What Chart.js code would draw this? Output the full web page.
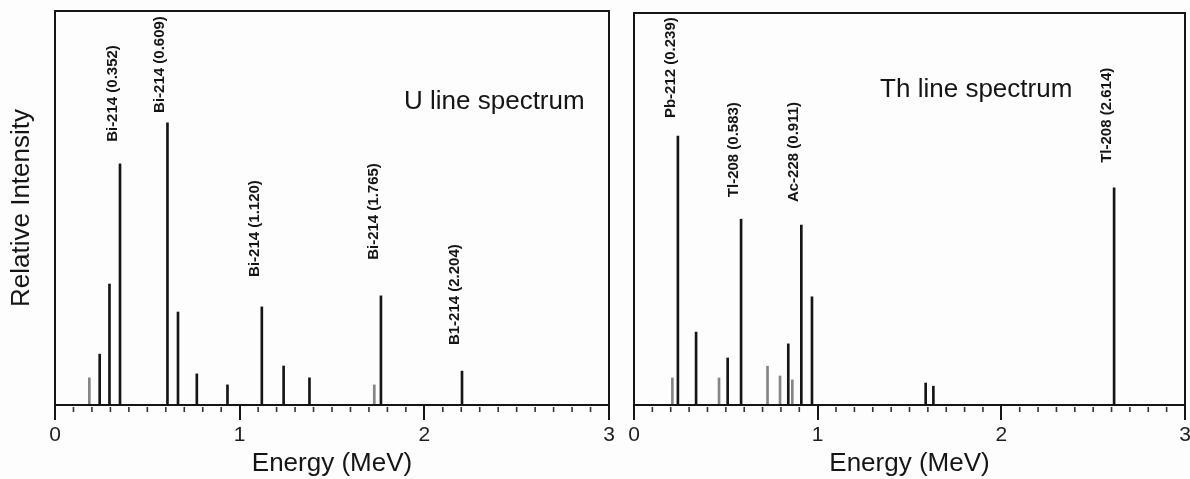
<!DOCTYPE html>
<html>
<head>
<meta charset="utf-8">
<title>U and Th line spectra</title>
<script src="https://cdn.jsdelivr.net/npm/chart.js@4.4.0/dist/chart.umd.min.js"></script>
<style>
  html, body { margin: 0; padding: 0; background: #fdfdfd; overflow: hidden; }
  #wrap { position: relative; width: 1190px; height: 479px; }
  canvas { position: absolute; top: 0; }
  #uChart { left: 0; }
  #thChart { left: 620px; }
</style>
</head>
<body>
<div id="wrap">
  <canvas id="uChart" width="620" height="479"></canvas>
  <canvas id="thChart" width="580" height="479"></canvas>
</div>
<script>
// U chain gamma lines: energy (MeV) and relative intensity (% of panel height)
const uEnergy    = [0.186, 0.242, 0.295, 0.352, 0.609, 0.666, 0.768, 0.934, 1.120, 1.238, 1.378, 1.729, 1.765, 2.204];
const uIntensity = [6.9, 12.9, 30.7, 61.2, 71.6, 23.6, 7.9, 5.1, 24.9, 9.9, 6.9, 5.1, 27.7, 8.6];
const uTags      = ['', '', '', 'Bi-214 (0.352)', 'Bi-214 (0.609)', '', '', '', 'Bi-214 (1.120)', '', '', '', 'Bi-214 (1.765)', 'B1-214 (2.204)'];
const uFaint     = [0.186, 1.729];

// Th chain gamma lines
const thEnergy    = [0.209, 0.239, 0.338, 0.463, 0.510, 0.583, 0.727, 0.795, 0.840, 0.862, 0.911, 0.969, 1.588, 1.630, 2.614];
const thIntensity = [6.9, 68.6, 18.6, 6.9, 12.0, 47.4, 9.9, 7.4, 15.6, 6.4, 45.9, 27.6, 5.6, 4.8, 55.4];
const thTags      = ['', 'Pb-212 (0.239)', '', '', '', 'Tl-208 (0.583)', '', '', '', '', 'Ac-228 (0.911)', '', '', '', 'Tl-208 (2.614)'];
const thFaint     = [0.209, 0.463, 0.727, 0.795, 0.862];

// labelled energies on the x axis
const energyTickLabels = [0, 1, 2, 3];

const FONT = '"Liberation Sans", Arial, Helvetica, sans-serif';
const INK = '#151515';

function isMajor(v) {
  return Math.abs(v - Math.round(v)) < 1e-6;
}

// frame, minor ticks, line tags and the panel caption
const spectrumPlugin = {
  id: 'spectrum',
  afterDatasetsDraw(chart, args, opts) {
    const ctx = chart.ctx;
    const {left, top, right, bottom} = chart.chartArea;
    const xs = chart.scales.x, ys = chart.scales.y;
    ctx.save();

    ctx.strokeStyle = INK;
    ctx.lineWidth = 2;
    ctx.strokeRect(left, top, right - left, bottom - top);

    ctx.lineWidth = 1.6;
    ctx.strokeStyle = '#333';
    xs.ticks.forEach(t => {
      if (isMajor(t.value)) return;
      const px = xs.getPixelForValue(t.value);
      ctx.beginPath();
      ctx.moveTo(px, bottom + 2);
      ctx.lineTo(px, bottom + 7);
      ctx.stroke();
    });

    const meta = chart.getDatasetMeta(0);
    ctx.fillStyle = INK;
    ctx.font = 'bold 15px ' + FONT;
    opts.tags.forEach((tag, i) => {
      if (!tag) return;
      const bar = meta.data[i];
      const gap = opts.gaps[i] !== undefined ? opts.gaps[i] : 22;
      ctx.save();
      ctx.translate(bar.x - 3, bar.y - gap);
      ctx.rotate(-Math.PI / 2);
      ctx.textAlign = 'left';
      ctx.textBaseline = 'alphabetic';
      ctx.fillText(tag, 0, 0);
      ctx.restore();
    });

    ctx.font = '26px ' + FONT;
    ctx.textAlign = 'left';
    ctx.textBaseline = 'middle';
    ctx.fillText(opts.caption, xs.getPixelForValue(opts.captionAt[0]), ys.getPixelForValue(opts.captionAt[1]));

    ctx.restore();
  }
};

function spectrumChart(id, energy, intensity, faint, tags, cfg) {
  return new Chart(document.getElementById(id), {
    type: 'bar',
    data: {
      datasets: [{
        data: energy.map((e, i) => ({x: e, y: intensity[i]})),
        backgroundColor: energy.map(e => faint.includes(e) ? '#858585' : INK),
        barThickness: 2
      }]
    },
    options: {
      responsive: false,
      animation: false,
      devicePixelRatio: 1,
      layout: { padding: cfg.padding },
      plugins: {
        legend: { display: false },
        tooltip: { enabled: false },
        spectrum: { tags: tags, gaps: cfg.gaps, caption: cfg.caption, captionAt: cfg.captionAt }
      },
      scales: {
        x: {
          type: 'linear',
          min: 0,
          max: 3,
          offset: false,
          afterFit: s => { s.height = 74; },
          border: { display: false },
          grid: {
            offset: false,
            drawOnChartArea: false,
            drawTicks: true,
            tickLength: 15,
            lineWidth: 2,
            tickColor: c => isMajor(c.tick.value) ? INK : 'rgba(0,0,0,0)'
          },
          ticks: {
            stepSize: 0.1,
            autoSkip: false,
            maxRotation: 0,
            padding: 3,
            color: '#1e1e1e',
            font: { family: FONT, size: 21 },
            callback: v => energyTickLabels.includes(Math.round(v)) && isMajor(v) ? String(Math.round(v)) : ''
          },
          title: {
            display: true,
            text: 'Energy (MeV)',
            color: INK,
            padding: { top: 0, bottom: 0 },
            font: { family: FONT, size: 26 }
          }
        },
        y: {
          min: 0,
          max: 100,
          display: !!cfg.yTitle,
          afterFit: s => { s.width = cfg.yTitle ? 55 : 0; },
          border: { display: false },
          grid: { display: false },
          ticks: { display: false },
          title: {
            display: !!cfg.yTitle,
            text: cfg.yTitle || '',
            color: INK,
            padding: { top: 6, bottom: 0 },
            font: { family: FONT, size: 26 }
          }
        }
      }
    },
    plugins: [spectrumPlugin]
  });
}

spectrumChart('uChart', uEnergy, uIntensity, uFaint, uTags, {
  padding: { left: 0, right: 11, top: 11, bottom: 0 },
  gaps: { 3: 22, 4: 10, 8: 30, 12: 36, 13: 26 },
  caption: 'U line spectrum',
  captionAt: [1.89, 77],
  yTitle: 'Relative Intensity'
});

spectrumChart('thChart', thEnergy, thIntensity, thFaint, thTags, {
  padding: { left: 14, right: 15, top: 13, bottom: 0 },
  gaps: { 1: 18, 5: 22, 10: 23, 14: 25 },
  caption: 'Th line spectrum',
  captionAt: [1.34, 80.4],
  yTitle: ''
});
</script>
</body>
</html>
